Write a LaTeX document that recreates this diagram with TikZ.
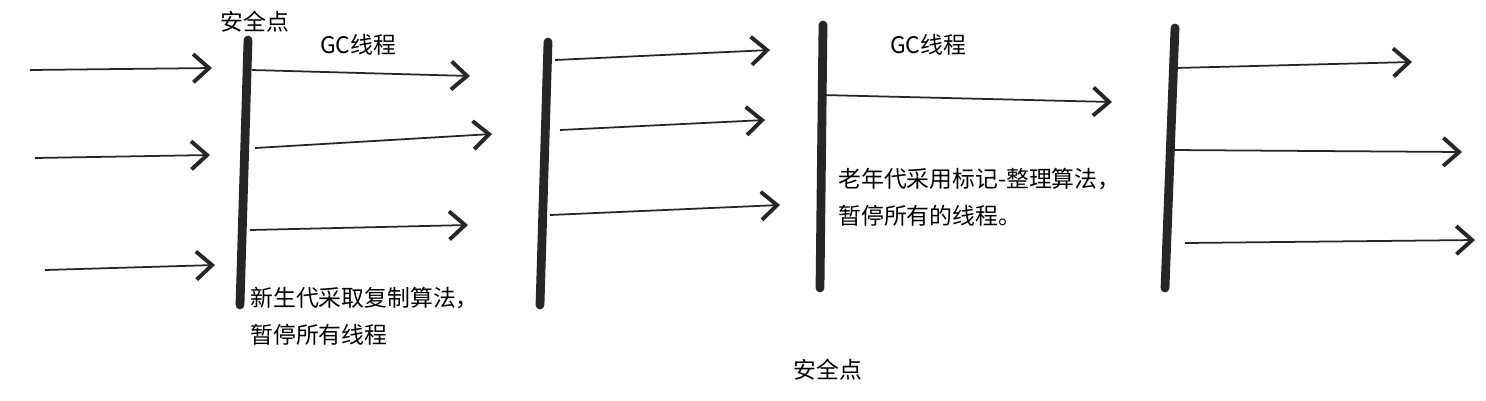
\documentclass[tikz,border=0pt]{standalone}
\usepackage{fontspec}
\setmainfont{Noto Sans CJK SC}
\usetikzlibrary{arrows.meta}
\begin{document}
\begin{tikzpicture}[x=0.02cm,y=-0.02cm,
  bar/.style={line width=5pt,line cap=round,black!85},
  thr/.style={line width=1pt,black!85,-{Straight Barb[length=9pt,width=16pt,line width=2.2pt]}},
  lbl/.style={font=\fontsize{13pt}{17pt}\selectfont,inner sep=0pt},
  blk/.style={lbl,align=left,anchor=north west}]
\useasboundingbox[fill=white] (0,0) rectangle (1486,400);
\node[lbl] (sp1) at (255,22) {安全点};
\node[lbl] (gc1) at (358,45) {GC线程};
\node[lbl] (gc2) at (928,45) {GC线程};
\node[lbl] (sp2) at (828,370) {安全点};
\node[blk] (t1) at (250,287) {新生代采取复制算法，\\[4pt]暂停所有线程};
\node[blk] (t2) at (838,168) {老年代采用标记-整理算法，\\[4pt]暂停所有的线程。};
\coordinate (b1a) at (248,40); \coordinate (b1b) at (240,305);
\coordinate (b2a) at (548,42); \coordinate (b2b) at (540,305);
\coordinate (b3a) at (823,25); \coordinate (b3b) at (820,288);
\coordinate (b4a) at (1175,28); \coordinate (b4b) at (1165,288);
\draw[bar] (b1a)--(b1b); \draw[bar] (b2a)--(b2b);
\draw[bar] (b3a)--(b3b); \draw[bar] (b4a)--(b4b);
\coordinate (a1) at (30,70); \coordinate (a1e) at (212,68);
\coordinate (a2) at (35,158); \coordinate (a2e) at (210,155);
\coordinate (a3) at (45,270); \coordinate (a3e) at (215,265);
\draw[thr] (a1)--(a1e); \draw[thr] (a2)--(a2e); \draw[thr] (a3)--(a3e);
\coordinate (c1) at (252,70); \coordinate (c1e) at (470,76);
\coordinate (c2) at (255,148); \coordinate (c2e) at (492,134);
\coordinate (c3) at (250,230); \coordinate (c3e) at (468,225);
\draw[thr] (c1)--(c1e); \draw[thr] (c2)--(c2e); \draw[thr] (c3)--(c3e);
\coordinate (d1) at (555,60); \coordinate (d1e) at (770,50);
\coordinate (d2) at (560,130); \coordinate (d2e) at (765,120);
\coordinate (d3) at (550,215); \coordinate (d3e) at (780,205);
\draw[thr] (d1)--(d1e); \draw[thr] (d2)--(d2e); \draw[thr] (d3)--(d3e);
\coordinate (e1) at (822,95); \coordinate (e1e) at (1112,102);
\draw[thr] (e1)--(e1e);
\coordinate (f1) at (1175,68); \coordinate (f1e) at (1412,62);
\coordinate (f2) at (1172,150); \coordinate (f2e) at (1462,152);
\coordinate (f3) at (1185,243); \coordinate (f3e) at (1475,240);
\draw[thr] (f1)--(f1e); \draw[thr] (f2)--(f2e); \draw[thr] (f3)--(f3e);
\end{tikzpicture}
\end{document}
